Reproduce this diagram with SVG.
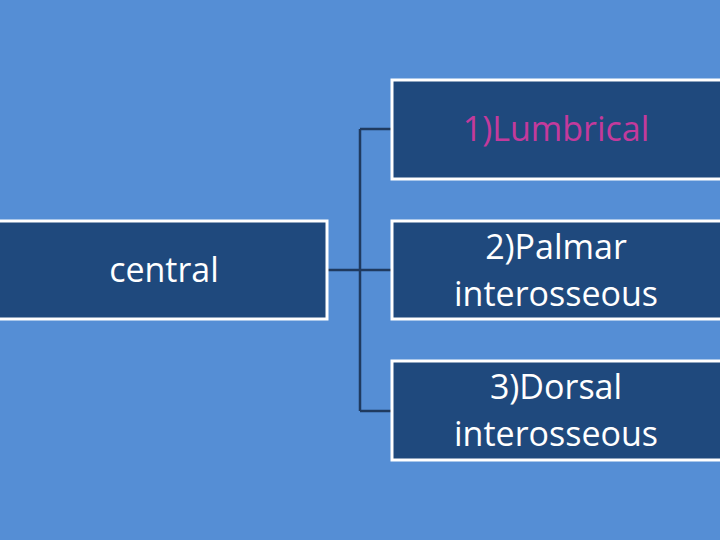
<svg xmlns="http://www.w3.org/2000/svg" width="720" height="540" viewBox="0 0 720 540">
<style>
.box{fill:#1f497d;stroke:#fff;stroke-width:3}
.t{font-family:"Open Sans","DejaVu Sans",sans-serif;font-size:34px;fill:#fff;text-anchor:middle}
.c{fill:none;stroke:#1f3a5f;stroke-width:2.5}
</style>
<rect width="720" height="540" fill="#558ed5"/>
<g id="connectors">
<path class="c" d="M328 270H360M360 129V411M360 129H392M360 270H392M360 411H392"/>
</g>
<g id="central"><rect class="box" x="-2" y="221" width="329" height="98"/><text class="t" x="164" y="282">central</text></g>
<g id="n1"><rect class="box" x="392" y="80" width="330" height="99"/><text class="t" x="556" y="141" fill="#c0399a" style="fill:#c33a9c">1)Lumbrical</text></g>
<g id="n2"><rect class="box" x="392" y="221" width="330" height="98"/><text class="t" x="556" y="259">2)Palmar</text><text class="t" x="556" y="306">interosseous</text></g>
<g id="n3"><rect class="box" x="392" y="361" width="330" height="99"/><text class="t" x="556" y="399">3)Dorsal</text><text class="t" x="556" y="446">interosseous</text></g>
</svg>
